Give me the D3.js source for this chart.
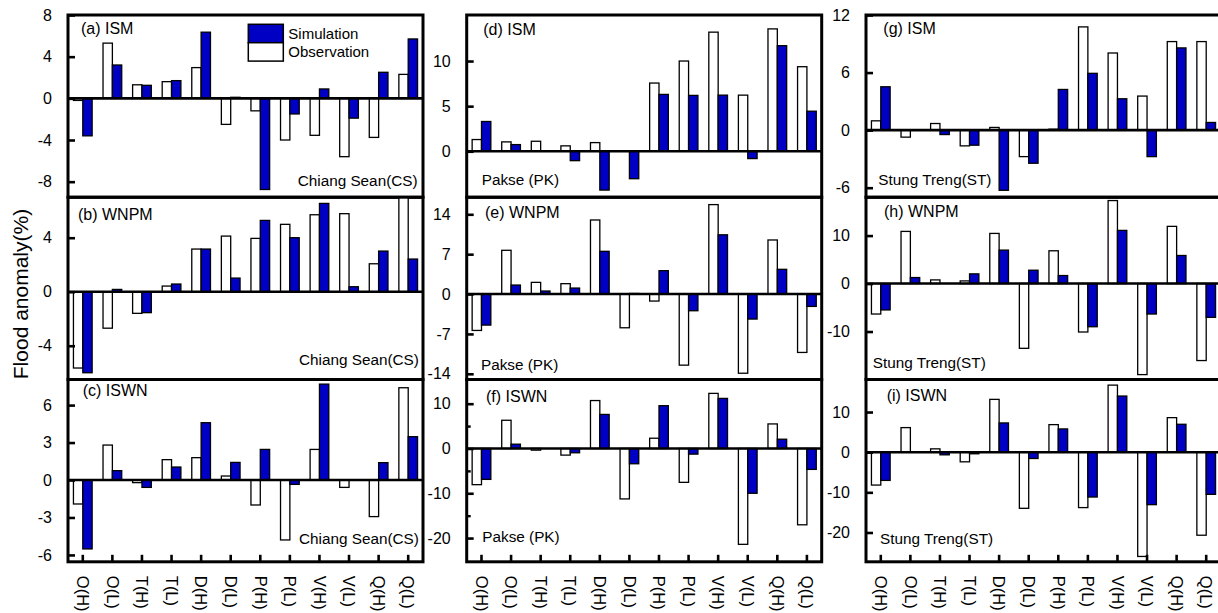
<!DOCTYPE html>
<html>
<head>
<meta charset="utf-8">
<script src="https://cdn.jsdelivr.net/npm/d3@7/dist/d3.min.js"></script>
<style>
  html, body { margin: 0; padding: 0; background: #fff; }
  svg { display: block; font-family: "Liberation Sans", Arial, sans-serif; }
</style>
</head>
<body>
<svg id="chart" width="1218" height="613"></svg>
<script>
// ---------------- DATA ----------------
const categories = ["O(H)","O(L)","T(H)","T(L)","D(H)","D(L)","P(H)","P(L)","V(H)","V(L)","Q(H)","Q(L)"];
const seriesNames = ["Observation", "Simulation"];

// Chiang Sean (CS)
const obsA = [-0.2, 5.3, 1.3, 1.6, 2.95, -2.5, -1.2, -4.0, -3.55, -5.6, -3.75, 2.3];
const simA = [-3.6, 3.2, 1.25, 1.7, 6.35, 0.1, -8.75, -1.5, 0.9, -1.9, 2.5, 5.7];
const obsB = [-5.65, -2.7, -1.6, 0.42, 3.16, 4.12, 3.95, 4.99, 5.7, 5.78, 2.07, 7.5];
const simB = [-6.0, 0.17, -1.55, 0.57, 3.16, 1.01, 5.28, 4.0, 6.54, 0.37, 3.01, 2.42];
const obsC = [-1.92, 2.8, -0.21, 1.63, 1.79, 0.32, -2.0, -4.8, 2.45, -0.59, -2.93, 7.39];
const simC = [-5.52, 0.75, -0.59, 1.04, 4.59, 1.41, 2.45, -0.35, 7.68, 0, 1.39, 3.47];
// Pakse (PK)
const obsD = [1.3, 1.04, 1.11, 0.6, 0.96, 0, 7.56, 10.0, 13.2, 6.22, 13.56, 9.37];
const simD = [3.3, 0.74, 0, -1.04, -4.3, -3.04, 6.3, 6.19, 6.22, -0.81, 11.7, 4.44];
const obsE = [-6.39, 7.68, 2.05, 1.82, 13.0, -5.92, -1.23, -12.48, 15.7, -13.9, 9.49, -10.25];
const simE = [-5.45, 1.58, 0.53, 1.05, 7.5, 0.1, 4.1, -2.93, 10.4, -4.39, 4.34, -2.17];
const obsF = [-8.08, 6.3, -0.37, -1.48, 10.7, -11.26, 2.29, -7.56, 12.3, -21.4, 5.48, -17.04];
const simF = [-6.9, 0.96, 0, -0.96, 7.6, -3.41, 9.55, -1.26, 11.18, -10.0, 2.07, -4.67];
// Stung Treng (ST)
const obsG = [0.97, -0.73, 0.69, -1.64, 0.28, -2.76, 0.1, 10.76, 8.04, 3.55, 9.23, 9.23];
const simG = [4.52, 0, -0.46, -1.57, -6.27, -3.45, 4.24, 5.92, 3.27, -2.76, 8.57, 0.8];
const obsH = [-6.35, 10.87, 0.76, 0.55, 10.45, -13.5, 6.83, -10.1, 17.3, -18.98, 11.92, -16.05];
const simH = [-5.5, 1.25, 0, 2.02, 6.97, 2.78, 1.67, -9.0, 11.08, -6.35, 5.85, -7.05];
const obsI = [-8.19, 6.12, 0.83, -2.4, 13.15, -13.98, 6.86, -13.8, 16.7, -25.97, 8.6, -20.68];
const simI = [-7.03, 0.1, -0.66, -0.4, 7.28, -1.57, 5.79, -11.17, 13.98, -13.07, 6.95, -10.5];

// tick values per panel
const ticksA = [8, 4, 0, -4, -8];
const ticksB = [4, 0, -4];
const ticksC = [6, 3, 0, -3, -6];
const ticksD = [10, 5, 0];
const ticksE = [14, 7, 0, -7, -14];
const ticksF = [10, 0, -10, -20];
const minorF = [5, -5, -15];
const ticksG = [12, 6, 0, -6];
const ticksH = [10, 0, -10];
const ticksI = [10, 0, -10, -20];

const panelTitles = ["(a) ISM","(b) WNPM","(c) ISWN","(d) ISM","(e) WNPM","(f) ISWN","(g) ISM","(h) WNPM","(i) ISWN"];
const stations = ["Chiang Sean(CS)", "Pakse (PK)", "Stung Treng(ST)"];
const yTitle = "Flood anomaly(%)";

// ---------------- LAYOUT ----------------
const colX = [68, 466.7, 866];
const rowY = [15, 197.2, 379.5];
const panelW = 355, panelH = 182.3;

const panels = [
  {col:0,row:0,obs:obsA,sim:simA,dom:[-9.5,8],ticks:ticksA,minor:[],tOff:[13,19],sPos:[229.7,171]},
  {col:0,row:1,obs:obsB,sim:simB,dom:[-6.5,7],ticks:ticksB,minor:[],tOff:[10,23],sPos:[231,168]},
  {col:0,row:2,obs:obsC,sim:simC,dom:[-6.55,8.05],ticks:ticksC,minor:[],tOff:[14.7,16],sPos:[231,164]},
  {col:1,row:0,obs:obsD,sim:simD,dom:[-5.1,15.1],ticks:ticksD,minor:[],tOff:[16.6,20],sPos:[15,170]},
  {col:1,row:1,obs:obsE,sim:simE,dom:[-15,17],ticks:ticksE,minor:[],tOff:[18.3,21],sPos:[14.3,173]},
  {col:1,row:2,obs:obsF,sim:simF,dom:[-25.3,15.4],ticks:ticksF,minor:minorF,tOff:[19.3,22],sPos:[15.6,162]},
  {col:2,row:0,obs:obsG,sim:simG,dom:[-7,12],ticks:ticksG,minor:[],tOff:[17.3,19],sPos:[12.3,170]},
  {col:2,row:1,obs:obsH,sim:simH,dom:[-20,18],ticks:ticksH,minor:[],tOff:[18,19.5],sPos:[6.7,171]},
  {col:2,row:2,obs:obsI,sim:simI,dom:[-27.3,18.1],ticks:ticksI,minor:[],tOff:[20.7,21],sPos:[14,164]}
];

const BLUE = "#0000c4";
const svg = d3.select("#chart");
const defs = svg.append("defs");

const x0 = d3.scaleBand().domain(categories).range([0, panelW]).paddingInner(0.368).paddingOuter(0.184);
const x1 = d3.scaleBand().domain(seriesNames).range([0, x0.bandwidth()]);

panels.forEach((p, i) => {
  const gx = colX[p.col], gy = rowY[p.row];
  const g = svg.append("g").attr("transform", `translate(${gx},${gy})`);
  const y = d3.scaleLinear().domain(p.dom).range([panelH, 0]);

  const clipId = "clip" + i;
  defs.append("clipPath").attr("id", clipId)
    .append("rect").attr("x", 0).attr("y", 0).attr("width", panelW).attr("height", panelH);

  const bars = g.append("g").attr("clip-path", `url(#${clipId})`);
  const rows = [];
  categories.forEach((c, k) => {
    rows.push({cat: c, s: "Observation", v: p.obs[k]});
    rows.push({cat: c, s: "Simulation", v: p.sim[k]});
  });
  bars.selectAll("rect").data(rows.filter(d => d.v !== 0)).join("rect")
    .attr("x", d => x0(d.cat) + x1(d.s))
    .attr("width", x1.bandwidth())
    .attr("y", d => y(Math.max(0, d.v)))
    .attr("height", d => Math.abs(y(d.v) - y(0)))
    .attr("fill", d => d.s === "Simulation" ? BLUE : "#fff")
    .attr("stroke", "#000")
    .attr("stroke-width", 1.3);

  // zero line
  g.append("line").attr("x1", 0).attr("x2", panelW).attr("y1", y(0)).attr("y2", y(0))
    .attr("stroke", "#000").attr("stroke-width", 2.6);

  // y axis (ticks inward)
  const yAxis = d3.axisLeft(y).tickValues(p.ticks).tickSize(-7).tickPadding(16).tickFormat(d => String(d));
  const ya = g.append("g").call(yAxis);
  ya.select(".domain").remove();
  ya.selectAll(".tick line").attr("stroke", "#000").attr("stroke-width", 2.6);
  ya.selectAll(".tick text").attr("font-size", 16).attr("fill", "#000")
    .attr("font-family", "Liberation Sans, Arial, sans-serif");

  if (p.minor.length) {
    const ym = g.append("g").call(d3.axisLeft(y).tickValues(p.minor).tickSize(-4).tickFormat(""));
    ym.select(".domain").remove();
    ym.selectAll(".tick line").attr("stroke", "#000").attr("stroke-width", 2.4);
  }

  // x axis on bottom row
  if (p.row === 2) {
    const xa = g.append("g").attr("transform", `translate(0,${panelH})`)
      .call(d3.axisBottom(x0).tickSize(-7).tickPadding(0));
    xa.select(".domain").remove();
    xa.selectAll(".tick line").attr("stroke", "#000").attr("stroke-width", 2.6);
    xa.selectAll(".tick text")
      .attr("font-size", 16.5).attr("fill", "#000")
      .attr("font-family", "Liberation Sans, Arial, sans-serif")
      .attr("text-anchor", "start")
      .attr("transform", "translate(0,14) rotate(90)")
      .attr("y", 0).attr("x", 0).attr("dy", "0.35em");
  }

  // frame
  g.append("rect").attr("x", 0).attr("y", 0).attr("width", panelW).attr("height", panelH)
    .attr("fill", "none").attr("stroke", "#000").attr("stroke-width", 3);

  // titles
  g.append("text").attr("x", p.tOff[0]).attr("y", p.tOff[1]).attr("font-size", 16)
    .attr("fill", "#000").text(panelTitles[i]);
  g.append("text").attr("x", p.sPos[0]).attr("y", p.sPos[1]).attr("font-size", 15.3)
    .attr("fill", "#000").text(stations[p.col]);

  // legend in first panel
  if (i === 0) {
    const lg = g.append("g").attr("transform", "translate(180.3,9.3)");
    const items = ["Simulation", "Observation"];
    lg.selectAll("rect").data(items).join("rect")
      .attr("x", 0).attr("y", (d, k) => k * 18.4).attr("width", 35).attr("height", 18.4)
      .attr("fill", d => d === "Simulation" ? BLUE : "#fff")
      .attr("stroke", "#000").attr("stroke-width", 1.5);
    lg.selectAll("text").data(items).join("text")
      .attr("x", 40).attr("y", (d, k) => k * 18.4 + 14.5)
      .attr("font-size", 15).attr("fill", "#000").text(d => d);
  }
});

// y-axis title
svg.append("text")
  .attr("transform", "translate(28,294) rotate(-90)")
  .attr("text-anchor", "middle")
  .attr("font-size", 21)
  .attr("fill", "#000")
  .text(yTitle);
</script>
</body>
</html>
